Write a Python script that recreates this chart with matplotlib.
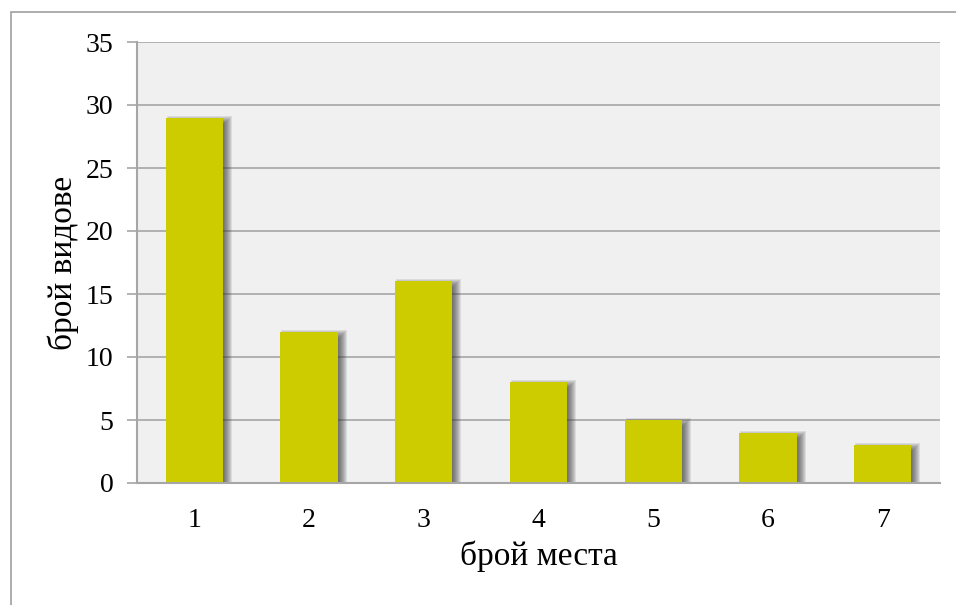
import matplotlib.pyplot as plt
from matplotlib.patches import Rectangle

# number of sites vs number of species
places = ["1", "2", "3", "4", "5", "6", "7"]
species = [29, 12, 16, 8, 5, 4, 3]
y_ticks = [0, 5, 10, 15, 20, 25, 30, 35]

BAR_COLOR = "#cccc00"
GRID_COLOR = "#a6a6a6"
PLOT_BG = "#f0f0f0"
BAR_W = 0.5

plt.rcParams['font.family'] = ['Liberation Serif', 'DejaVu Serif']

fig = plt.figure(figsize=(9.56, 6.05), dpi=100)
left, right, top, bottom = 137, 940, 42, 483
ax = fig.add_axes([left / 956, 1 - bottom / 605, (right - left) / 956, (bottom - top) / 605])
ax.set_facecolor(PLOT_BG)

x = list(range(len(places)))
ax.set_xlim(-0.5, len(places) - 0.5)
ax.set_ylim(0, 35)

# pixels per data unit, used to size the blurred shadow
px_x = (right - left) / len(places)
px_y = (bottom - top) / 35.0

# soft drop shadow: stacked translucent rectangles, shifted to the right
off_x, off_y = 5, 2
for xi, v in zip(x, species):
    for e in range(-4, 5):
        hw = BAR_W / 2 + e / px_x
        cx = xi + off_x / px_x
        ytop = v - off_y / px_y + e / px_y
        ax.add_patch(Rectangle((cx - hw, -1), 2 * hw, ytop + 1,
                               facecolor="#303030", alpha=0.105,
                               linewidth=0, zorder=2))

ax.bar(x, species, width=BAR_W, color=BAR_COLOR, zorder=3, linewidth=0)

ax.set_yticks(y_ticks)
ax.set_xticks(x)
ax.set_xticklabels(places)
ax.yaxis.grid(True, color=GRID_COLOR, linewidth=1.2, zorder=1)
ax.set_axisbelow(True)

for side in ["top", "right"]:
    ax.spines[side].set_visible(False)
for side in ["left", "bottom"]:
    ax.spines[side].set_color(GRID_COLOR)
    ax.spines[side].set_linewidth(1.5)
    ax.spines[side].set_zorder(4)

ax.tick_params(axis="y", length=7, width=1.2, color=GRID_COLOR, labelsize=20, pad=10)
ax.tick_params(axis="x", length=0, labelsize=20, pad=18)

ax.set_xlabel("брой места", fontsize=24)
ax.xaxis.set_label_coords(0.5, -0.13)
ax.set_ylabel("брой видове", fontsize=24)
ax.yaxis.set_label_coords(-0.072, 0.5)

# outer chart frame
fig.patches.append(Rectangle((11 / 956, -0.1), 2, 1 - 12 / 605 + 0.1,
                             transform=fig.transFigure, fill=False,
                             edgecolor="#a0a0a0", linewidth=1.2))

fig.savefig("out.png", dpi=100)
